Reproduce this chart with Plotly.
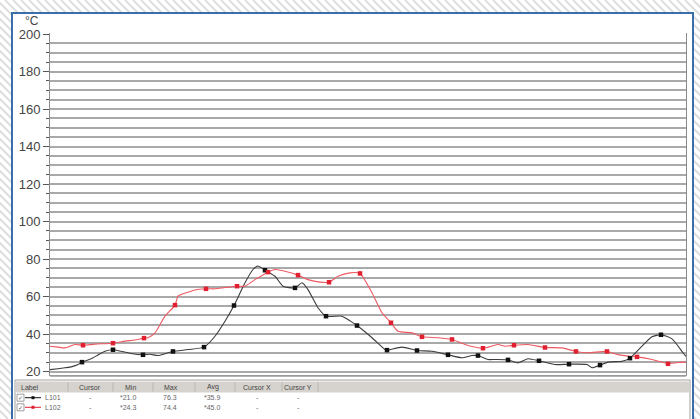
import plotly.graph_objects as go

# ---------------- data ----------------
# time index (sample position along the x axis)
t_l101 = [0, 8, 15, 22, 28, 32, 40, 48, 55, 63, 71, 81, 93, 100, 108, 115, 123, 138, 154, 165,
          175, 184, 195, 203, 208, 215, 225, 233, 245, 252, 258, 268, 276, 292, 300, 307, 322, 335,
          337, 352, 367, 382, 398, 412, 422, 428, 438, 445, 458, 468, 478, 489, 505, 519, 537, 542,
          550, 558, 572, 580, 592, 602, 611, 622, 633, 636]
v_l101 = [21.0, 21.5, 22.0, 22.6, 23.7, 25.0, 26.5, 28.8, 30.8, 31.6, 30.8, 29.6, 28.9, 29.2, 28.5, 29.5,
          30.7, 31.7, 33.0, 38.8, 46.8, 55.2, 67.3, 74.4, 76.3, 74.0, 70.8, 65.5, 64.6, 67.3, 63.7, 54.0,
          49.5, 49.5, 47.0, 44.5, 38.0, 31.7, 31.4, 33.0, 31.2, 30.8, 28.9, 27.3, 28.5, 28.5, 26.4, 26.4,
          26.2, 24.6, 26.8, 25.7, 23.7, 23.9, 23.7, 22.0, 23.4, 25.0, 25.5, 27.1, 33.5, 38.5, 39.6, 37.4,
          30.0, 28.0]

t_l102 = [0, 8, 15, 25, 33, 45, 63, 75, 85, 94, 98, 105, 115, 125, 128, 138, 145, 156, 165, 175, 187,
          195, 205, 218, 225, 235, 248, 258, 268, 279, 288, 300, 310, 322, 332, 341, 348, 362, 372, 388,
          402, 415, 433, 448, 455, 464, 478, 495, 512, 526, 538, 557, 568, 578, 587, 602, 618, 632, 636]
v_l102 = [33.5, 33.0, 32.6, 34.4, 34.0, 34.6, 35.1, 36.2, 36.8, 37.8, 38.0, 40.6, 49.5, 55.4, 60.2, 62.3,
          63.5, 64.1, 64.1, 64.8, 65.5, 65.5, 69.0, 73.0, 74.4, 73.5, 71.4, 69.0, 67.8, 67.6, 70.8, 72.6,
          72.3, 62.0, 51.3, 46.0, 41.5, 40.6, 38.5, 38.0, 37.1, 34.4, 32.4, 34.4, 33.5, 34.0, 34.4, 32.8,
          32.6, 30.7, 30.0, 30.7, 29.0, 28.2, 27.8, 26.4, 24.3, 25.0, 25.0]

mk_t_l101 = [32, 63, 93, 123, 154, 184, 215, 245, 276, 307, 337, 367, 398, 428, 458, 489, 519, 550, 580, 611]
mk_v_l101 = [25.0, 31.6, 28.9, 30.7, 33.0, 55.2, 74.0, 64.6, 49.5, 44.5, 31.4, 31.2, 28.9, 28.5, 26.2,
             25.7, 23.9, 23.4, 27.1, 39.6]
mk_t_l102 = [33, 63, 94, 125, 156, 187, 218, 248, 279, 310, 341, 372, 402, 433, 464, 495, 526, 557, 587, 618]
mk_v_l102 = [34.0, 35.1, 37.8, 55.4, 64.1, 65.5, 73.0, 71.4, 67.6, 72.3, 46.0, 38.5, 37.1, 32.4, 34.0,
             32.8, 30.7, 30.7, 27.8, 24.1]

y_tick_vals = [20, 40, 60, 80, 100, 120, 140, 160, 180, 200]
y_unit = "°C"

table_headers = ["Label", "Cursor", "Min", "Max", "Avg", "Cursor X", "Cursor Y"]
table_rows = [
    ["L101", "-", "*21.0", "76.3", "*35.9", "-", "-"],
    ["L102", "-", "*24.3", "74.4", "*45.0", "-", "-"],
]
row_colors = ["#111111", "#e02030"]

# ---------------- geometry helpers ----------------
W, H = 700, 419
ML, MR, MT, MB = 50, 14, 33, 44
PW = W - ML - MR
PH = H - MT - MB


def px(x):
    return (x - ML) / PW


def py(y):
    return (H - MB - y) / PH


fig = go.Figure()

fig.add_trace(go.Scatter(x=t_l101, y=v_l101, mode="lines", line=dict(color="#3c3c3c", width=1.1,
                         shape="spline", smoothing=0.6), hoverinfo="skip", showlegend=False))
fig.add_trace(go.Scatter(x=t_l102, y=v_l102, mode="lines", line=dict(color="#ee5a62", width=1.1,
                         shape="spline", smoothing=0.6), hoverinfo="skip", showlegend=False))
fig.add_trace(go.Scatter(x=mk_t_l101, y=mk_v_l101, mode="markers",
                         marker=dict(symbol="square", size=4.5, color="#111111"), showlegend=False))
fig.add_trace(go.Scatter(x=mk_t_l102, y=mk_v_l102, mode="markers",
                         marker=dict(symbol="square", size=4.5, color="#e02030"), showlegend=False))

shapes = []
# hatched background
step = 8
x0 = -H
while x0 < W:
    shapes.append(dict(type="line", xref="paper", yref="paper", x0=px(x0), y0=py(0),
                       x1=px(x0 + H), y1=py(H), line=dict(color="#dedede", width=2), layer="below"))
    x0 += step
# white frame with blue border
shapes.append(dict(type="rect", xref="paper", yref="paper", x0=px(12), y0=py(13), x1=px(693), y1=py(430),
                   fillcolor="white", line=dict(color="#3b6ea8", width=2), layer="below"))
# bottom double line
shapes.append(dict(type="line", xref="paper", yref="paper", x0=px(50), x1=px(686), y0=py(376), y1=py(376),
                   line=dict(color="#9a9a9a", width=1.5)))

# legend table
shapes.append(dict(type="rect", xref="paper", yref="paper", x0=px(15), y0=py(380), x1=px(690), y1=py(425),
                   fillcolor="white", line=dict(color="#a0a0a0", width=1)))
shapes.append(dict(type="rect", xref="paper", yref="paper", x0=px(16), y0=py(381.5), x1=px(689), y1=py(392.5),
                   fillcolor="#d6d3ce", line=dict(width=0)))
for sx in [68, 113, 153, 195, 235, 282, 318]:
    shapes.append(dict(type="line", xref="paper", yref="paper", x0=px(sx), x1=px(sx), y0=py(382.5),
                       y1=py(391.5), line=dict(color="#b8b5b0", width=1)))

annotations = []
header_x = [19, 90, 130, 171, 213, 257, 298]
for i, h in enumerate(table_headers):
    annotations.append(dict(xref="paper", yref="paper", x=px(header_x[i]), y=py(387), text=h,
                            showarrow=False, xanchor="left" if i == 0 else "center", yanchor="middle",
                            font=dict(family="Liberation Sans", size=7, color="#444")))
row_y = [397.7, 407.3]
for r, row in enumerate(table_rows):
    yy = row_y[r]
    col = row_colors[r]
    # checkbox
    shapes.append(dict(type="rect", xref="paper", yref="paper", x0=px(17), x1=px(24), y0=py(yy - 3.5),
                       y1=py(yy + 3.5), fillcolor="white", line=dict(color="#888", width=0.8)))
    annotations.append(dict(xref="paper", yref="paper", x=px(20.5), y=py(yy), text="✓", showarrow=False,
                            xanchor="center", yanchor="middle",
                            font=dict(family="DejaVu Sans", size=6, color="#555")))
    # line sample with marker
    shapes.append(dict(type="line", xref="paper", yref="paper", x0=px(25), x1=px(41), y0=py(yy), y1=py(yy),
                       line=dict(color=col, width=1)))
    shapes.append(dict(type="rect", xref="paper", yref="paper", x0=px(31.5), x1=px(34.5), y0=py(yy - 1.5),
                       y1=py(yy + 1.5), fillcolor=col, line=dict(width=0)))
    xs = [43, 90, 128, 170, 212, 257, 298]
    for i, txt in enumerate(row):
        annotations.append(dict(xref="paper", yref="paper", x=px(xs[i]), y=py(yy), text=txt,
                                showarrow=False, xanchor="left" if i == 0 else "center", yanchor="middle",
                                font=dict(family="Liberation Sans", size=7, color="#666")))

annotations.append(dict(xref="paper", yref="paper", x=px(32), y=py(21), text=y_unit, showarrow=False,
                        xanchor="center", yanchor="middle",
                        font=dict(family="Liberation Sans", size=12, color="#444")))

y_top = 200 + 1 / 1.875
y_bot = y_top - PH / 1.875

fig.update_layout(
    width=W, height=H,
    margin=dict(l=ML, r=MR, t=MT, b=MB, pad=0),
    paper_bgcolor="white", plot_bgcolor="white",
    shapes=shapes, annotations=annotations, showlegend=False,
    xaxis=dict(range=[0, PW], showgrid=False, zeroline=False, showticklabels=False, ticks="",
               showline=True, linecolor="#9a9a9a", linewidth=1, fixedrange=True),
    yaxis=dict(range=[y_bot, y_top], tickvals=y_tick_vals, ticks="outside", ticklen=6, tickwidth=1,
               tickcolor="#555", showgrid=True, gridcolor="#a9a9a9", gridwidth=2, zeroline=False,
               showline=True, linecolor="#8a8a8a", linewidth=1, mirror=True,
               tickfont=dict(family="Liberation Sans", size=13, color="#444"),
               minor=dict(dtick=5, tick0=0, ticks="outside", ticklen=3, tickcolor="#555",
                          showgrid=True, gridcolor="#a9a9a9", gridwidth=2),
               fixedrange=True),
)

fig.write_html("out.html", config={"displayModeBar": False},
               post_script="document.body.style.margin='0';document.body.style.overflow='hidden';")
